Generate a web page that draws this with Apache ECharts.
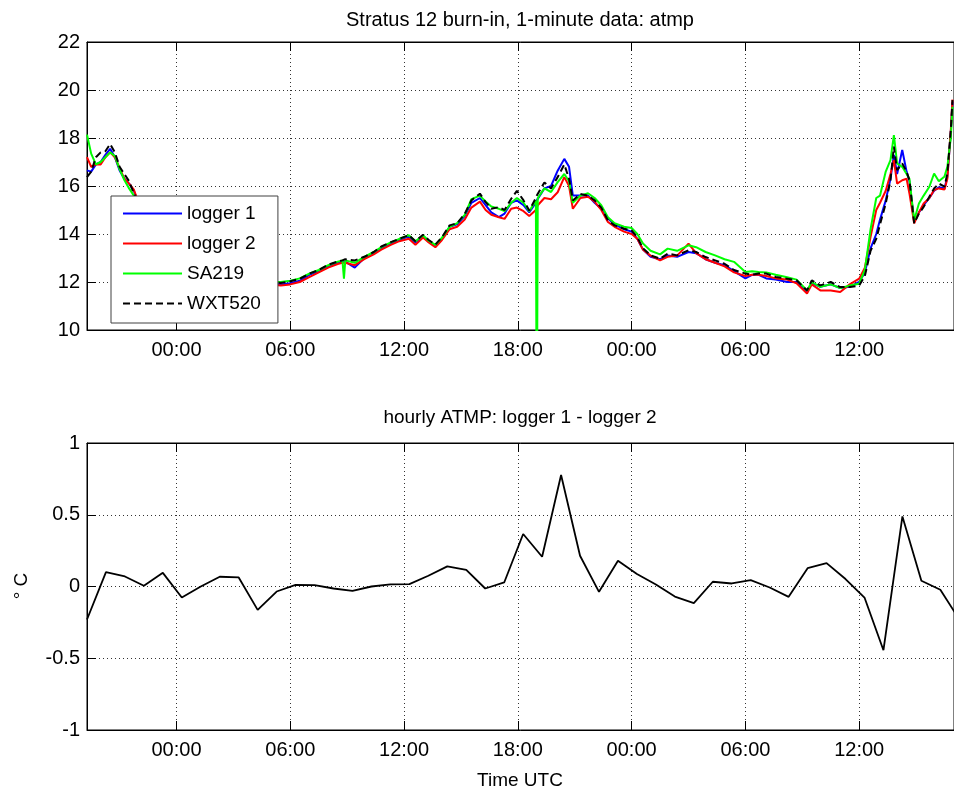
<!DOCTYPE html>
<html><head><meta charset="utf-8">
<script src="https://cdn.jsdelivr.net/npm/echarts@6/dist/echarts.min.js"></script>
<style>html,body{margin:0;padding:0;background:#fff}#chart{width:954px;height:796px}</style>
</head><body><div id="chart"></div>
<script>
// Hours relative to 00:00 of the first labelled day
const timeHours = [-4.72,-4.5,-4.25,-4.0,-3.75,-3.5,-3.25,-3.0,-2.75,-2.5,
 -2.25,-2.0,-1.0,0,1,2,3,4,5,5.5,
 6.0,6.5,7.0,7.5,8.0,8.5,8.75,8.83,8.9,9.4,
 9.9,10.4,10.8,11.3,11.75,12.25,12.6,13.0,13.3,13.65,
 14.0,14.4,14.8,15.2,15.55,16.0,16.3,16.6,17.0,17.3,
 17.65,17.95,18.3,18.6,18.95,19.0,19.05,19.4,19.75,20.1,
 20.45,20.7,20.9,21.3,21.7,22.05,22.4,22.75,23.1,23.6,
 24.0,24.3,24.6,25.0,25.5,25.9,26.4,27.0,27.4,27.9,
 28.4,28.9,29.4,30.0,30.35,30.7,31.1,31.6,32.2,32.7,
 33.25,33.5,33.95,34.5,35.0,35.5,36.0,36.3,36.6,36.9,
 37.1,37.4,37.65,37.83,38.0,38.27,38.5,38.65,38.9,39.15,
 39.4,39.7,39.95,40.2,40.5,40.65,40.83,40.92];
const logger1 = [16.65,16.6,16.9,17.0,17.3,17.55,17.2,16.65,16.3,16.1,
 15.8,15.3,14.4,13.5,12.9,12.5,12.2,12.0,11.95,11.9,
 11.95,12.05,12.3,12.45,12.65,12.8,12.85,12.85,12.85,12.6,
 13.0,13.2,13.4,13.6,13.75,13.9,13.65,13.9,13.7,13.5,
 13.8,14.3,14.4,14.75,15.3,15.5,15.2,14.9,14.7,14.85,
 15.3,15.4,15.2,14.9,15.3,15.4,15.45,15.9,16.0,16.64,
 17.13,16.8,15.6,15.6,15.6,15.3,15.05,14.65,14.4,14.2,
 14.1,13.8,13.35,13.05,12.95,13.1,13.05,13.25,13.2,12.95,
 12.8,12.7,12.45,12.15,12.3,12.3,12.15,12.1,12.0,12.0,
 11.6,11.95,11.8,11.9,11.75,11.8,12.0,12.4,13.4,14.0,
 14.6,15.4,16.3,17.3,16.5,17.5,16.6,16.2,14.5,14.9,
 15.2,15.5,15.8,15.95,15.9,16.4,18.2,19.5];
const logger2 = [17.2,16.8,16.9,16.9,17.2,17.4,17.2,16.75,16.3,16.1,
 15.85,15.3,14.4,13.5,12.9,12.5,12.2,12.0,11.9,11.85,
 11.9,12.0,12.2,12.4,12.6,12.75,12.8,12.8,12.8,12.7,
 12.95,13.15,13.35,13.55,13.7,13.8,13.55,13.85,13.65,13.45,
 13.75,14.2,14.3,14.6,15.1,15.35,15.0,14.8,14.7,14.63,
 15.05,15.1,14.95,14.75,15.0,15.1,15.2,15.5,15.45,15.74,
 16.37,16.0,15.05,15.5,15.55,15.35,15.0,14.5,14.3,14.1,
 14.0,13.8,13.35,13.1,12.9,13.05,13.1,13.6,13.2,12.95,
 12.8,12.65,12.4,12.25,12.3,12.3,12.25,12.15,12.1,11.95,
 11.52,11.9,11.65,11.65,11.58,11.9,12.14,12.6,13.88,15.0,
 15.3,15.8,16.5,17.08,16.1,16.24,16.3,15.69,14.44,14.9,
 15.27,15.5,15.83,15.9,15.85,16.3,18.3,19.6];
const sa219 = [18.14,17.35,16.9,17.0,17.2,17.4,17.25,16.7,16.25,15.9,
 15.6,15.2,14.4,13.5,12.9,12.5,12.2,12.05,12.0,12.0,
 12.05,12.15,12.35,12.5,12.7,12.85,12.9,12.14,12.9,12.8,
 13.05,13.25,13.45,13.65,13.8,13.95,13.7,13.95,13.72,13.55,
 13.85,14.3,14.45,14.8,15.45,15.6,15.35,15.15,15.05,14.95,
 15.3,15.5,15.3,14.95,15.4,5,15.5,15.9,15.75,16.16,
 16.5,16.2,15.3,15.6,15.7,15.5,15.2,14.7,14.45,14.3,
 14.25,14.0,13.6,13.3,13.15,13.39,13.3,13.53,13.45,13.25,
 13.11,12.95,12.84,12.42,12.45,12.42,12.4,12.3,12.2,12.1,
 11.65,12.0,11.8,11.9,11.75,11.85,11.93,12.5,14.2,15.5,
 15.6,16.6,17.08,18.12,16.94,16.8,16.5,16.3,14.57,15.27,
 15.6,15.97,16.52,16.2,16.4,16.8,18.0,19.3];
const wxt520 = [16.37,16.6,17.2,17.4,17.45,17.75,17.4,16.8,16.5,16.2,
 15.7,15.3,14.5,13.6,13.0,12.6,12.3,12.1,12.0,11.96,
 12.03,12.13,12.35,12.5,12.72,12.85,12.9,12.92,12.95,12.9,
 13.05,13.25,13.48,13.66,13.8,13.95,13.7,13.97,13.75,13.56,
 13.87,14.36,14.45,14.84,15.4,15.68,15.33,15.05,15.12,15.0,
 15.47,15.8,15.4,14.98,15.5,15.6,15.6,16.15,15.9,16.37,
 16.9,16.3,15.4,15.67,15.6,15.4,15.1,14.57,14.36,14.22,
 14.15,13.87,13.4,13.11,12.97,13.18,13.11,13.32,13.25,13.04,
 12.9,12.76,12.5,12.35,12.3,12.35,12.35,12.21,12.14,12.07,
 11.65,12.07,11.86,12.0,11.79,11.79,11.85,12.25,13.3,13.8,
 14.4,15.27,16.24,17.64,16.66,16.94,16.6,16.24,14.44,14.85,
 15.13,15.55,15.9,16.1,15.97,16.52,18.33,19.58];

const hourlyTimes = [-4.72,-3.72,-2.72,-1.72,-0.72,0.28,1.28,2.28,3.28,4.28,
 5.28,6.28,7.28,8.28,9.28,10.28,11.28,12.28,13.28,14.28,
 15.28,16.28,17.28,18.28,19.28,20.28,21.28,22.28,23.28,24.28,
 25.28,26.28,27.28,28.28,29.28,30.28,31.28,32.28,33.28,34.28,
 35.28,36.28,37.28,38.28,39.28,40.28,41.28];
const hourlyDiff = [-0.23,0.10,0.07,0.005,0.095,-0.077,0.0,0.068,0.063,-0.163,
 -0.035,0.012,0.01,-0.014,-0.03,0.0,0.015,0.017,0.075,0.14,
 0.116,-0.014,0.028,0.366,0.207,0.777,0.214,-0.037,0.179,0.087,
 0.014,-0.07,-0.116,0.033,0.021,0.044,-0.007,-0.072,0.128,0.163,
 0.052,-0.077,-0.444,0.488,0.04,-0.023,-0.23];

const tickHours = [0,6,12,18,24,30,36];
const tickLabels = ['00:00','06:00','12:00','18:00','00:00','06:00','12:00'];
const seriesNames = ['logger 1','logger 2','SA219','WXT520'];
const seriesColors = ['#0000ff','#ff0000','#00ff00','#000000'];

const FONT = 'Liberation Sans';
const X_MIN = -4.72, X_MAX = 41.0;

function pairs(xs, ys){ return xs.map((x,i)=>[x, ys[i]]); }

function xBottom(gridIndex){
  return {type:'value', gridIndex, min:X_MIN, max:X_MAX, position:'bottom',
    axisLine:{show:true, onZero:false, lineStyle:{color:'#000', width:1}},
    axisTick:{show:true, inside:true, length:9, customValues:tickHours, lineStyle:{color:'#000'}},
    axisLabel:{show:true, customValues:tickHours, margin:10, color:'#000', fontSize:20, fontFamily:FONT,
      formatter: v => tickLabels[tickHours.indexOf(Math.round(v))]},
    splitLine:{show:true, lineStyle:{color:'#333', width:1, type:[1,3]}}
  };
}
function xTop(gridIndex){
  return {type:'value', gridIndex, min:X_MIN, max:X_MAX, position:'top',
    axisLine:{show:true, onZero:false, lineStyle:{color:'#000', width:1}},
    axisTick:{show:true, inside:true, length:9, customValues:tickHours, lineStyle:{color:'#000'}},
    axisLabel:{show:false}, splitLine:{show:false}
  };
}
function yAx(gridIndex, min, max, interval){
  return {type:'value', gridIndex, min, max, interval,
    axisLine:{show:true, onZero:false, lineStyle:{color:'#000', width:1}},
    axisTick:{show:true, inside:true, length:9, lineStyle:{color:'#000'}},
    axisLabel:{margin:7, color:'#000', fontSize:20, fontFamily:FONT},
    splitLine:{show:true, lineStyle:{color:'#333', width:1, type:[1,3]}}
  };
}

const topData = [logger1, logger2, sa219, wxt520];
const series = topData.map((vals, i) => ({
  name: seriesNames[i], type:'line', xAxisIndex:0, yAxisIndex:0,
  data: pairs(timeHours, vals), symbol:'none', showSymbol:false, clip:true,
  lineStyle:{color:seriesColors[i], width:2, type: i===3 ? [7,4] : 'solid'},
  itemStyle:{color:seriesColors[i]}, z:2
}));
series.push({
  name:'diff', type:'line', xAxisIndex:2, yAxisIndex:1,
  data: pairs(hourlyTimes, hourlyDiff), symbol:'none', showSymbol:false, clip:true,
  lineStyle:{color:'#000', width:1.8}, itemStyle:{color:'#000'}
});

const chart = echarts.init(document.getElementById('chart'), null, {renderer:'canvas'});
chart.setOption({
  animation:false,
  backgroundColor:'#fff',
  grid:[
    {left:87, top:42, width:868, height:288, show:true, borderColor:'#000', borderWidth:1, backgroundColor:'#fff'},
    {left:87, top:443, width:868, height:287, show:true, borderColor:'#000', borderWidth:1, backgroundColor:'#fff'}
  ],
  xAxis:[xBottom(0), xTop(0), xBottom(1), xTop(1)],
  yAxis:[yAx(0,10,22,2), yAx(1,-1,1,0.5)],
  legend:{
    data: seriesNames, left:111, top:196, orient:'vertical',
    itemWidth:59, itemHeight:14, itemGap:11, padding:[8,17,10,11],
    backgroundColor:'#fff', borderColor:'#404040', borderWidth:1, borderRadius:0,
    selectedMode:false, z:10,
    itemStyle:{opacity:0, borderWidth:0},
    textStyle:{fontSize:19, color:'#000', fontFamily:FONT}
  },
  graphic:[
    {type:'text', x:520, y:20, style:{text:'Stratus 12 burn-in, 1-minute data: atmp', fill:'#000', fontSize:20, fontFamily:FONT, align:'center', verticalAlign:'middle'}},
    {type:'text', x:520, y:418, style:{text:'hourly ATMP: logger 1 - logger 2', fill:'#000', fontSize:19, fontFamily:FONT, align:'center', verticalAlign:'middle'}},
    {type:'text', x:520, y:781, style:{text:'Time UTC', fill:'#000', fontSize:19, fontFamily:FONT, align:'center', verticalAlign:'middle'}},
    {type:'text', x:22, y:586, rotation:Math.PI/2, style:{text:'° C', fill:'#000', fontSize:19, fontFamily:FONT, align:'center', verticalAlign:'middle'}}
  ],
  series
});
</script></body></html>
